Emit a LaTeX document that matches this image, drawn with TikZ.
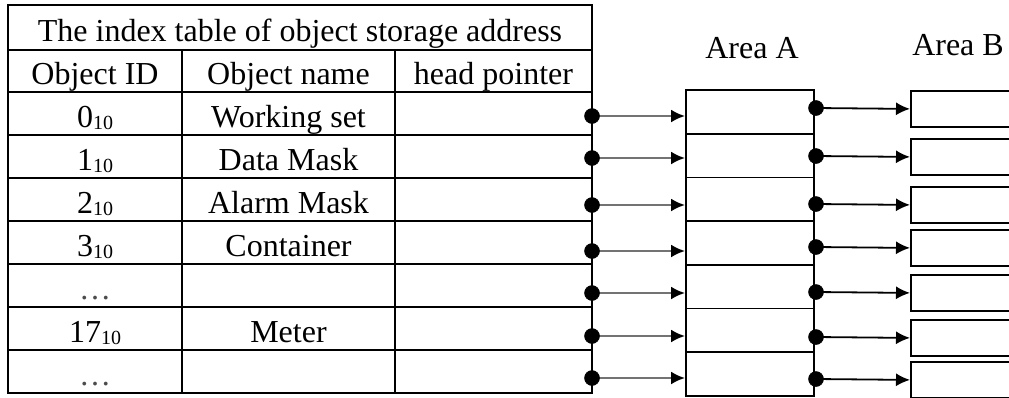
\documentclass[tikz,border=0pt]{standalone}
\usepackage{fontspec}
\setmainfont{Liberation Serif}
\usetikzlibrary{arrows.meta}
\newcommand{\idsub}[1]{#1\raisebox{-2pt}{\fontsize{20}{20}\selectfont 10}}
\newcommand{\dotsid}{\textcolor{black!70}{\ldots}}
\begin{document}
\begin{tikzpicture}[x=1pt,y=-1pt,
  cell/.style={draw, line width=1.8pt, inner sep=0pt, text height=27pt, text depth=0pt,
    font=\fontsize{32}{38}\selectfont},
  box/.style={draw, line width=1.8pt, inner sep=0pt},
  lab/.style={anchor=base, inner sep=0pt, font=\fontsize{32}{38}\selectfont},
  blob/.style={circle, fill=black, draw=black, line width=0.5pt, inner sep=0pt, minimum size=15pt},
  arrL/.style={line width=2.6pt, draw=black!55, -{Latex[length=14pt,width=13pt,black]}},
  arrR/.style={line width=1.8pt, draw=black, -{Latex[length=14pt,width=13pt]}}]
\useasboundingbox (0,0) rectangle (1009,397);
% table
\node[cell, minimum width=584pt, minimum height=45pt] (title) at (300,27.5)
  {The index table of object storage address};
\node[cell, minimum width=174pt, minimum height=42pt] (hid) at (95,71) {Object ID};
\node[cell, minimum width=213pt, minimum height=42pt] (hnm) at (288.5,71) {Object name};
\node[cell, minimum width=197pt, minimum height=42pt] (hhp) at (493.5,71) {head pointer};
\foreach \i/\id/\nm in {0/\idsub{0}/Working set,1/\idsub{1}/Data Mask,2/\idsub{2}/Alarm Mask,
  3/\idsub{3}/Container,4/\dotsid/{},5/\idsub{17}/Meter,6/\dotsid/{}}{
  \node[cell, minimum width=174pt, minimum height=43pt] (id\i) at (95,{113.5+43*\i}) {\id};
  \node[cell, minimum width=213pt, minimum height=43pt] (nm\i) at (288.5,{113.5+43*\i}) {\nm};
  \node[cell, minimum width=197pt, minimum height=43pt] (hp\i) at (493.5,{113.5+43*\i}) {};
}
% area A
\foreach \i in {0,...,6}{
  \node[box, minimum width=128pt, minimum height=43.714pt] (a\i) at (750,{90+43.714*(\i+0.5)}) {};
}
% area B
\foreach \i/\t in {0/90,1/138,2/186,3/229,4/274,5/319,6/361}{
  \node[box, anchor=north west, minimum width=130pt, minimum height=36pt] (b\i) at (910,\t) {};
}
\node[lab] (labA) at (752,58) {Area A};
\node[lab] (labB) at (958,55) {Area B};
% left arrows
\foreach \i/\y in {0/116,1/158,2/205,3/251,4/293,5/336,6/378}{
  \coordinate (s\i) at (592,\y);
  \draw[arrL] (s\i) -- (s\i -| a\i.west);
  \node[blob] (l\i) at (s\i) {};
}
% right arrows
\foreach \i/\t in {0/90,1/138,2/186,3/229,4/274,5/319,6/361}{
  \coordinate (t\i) at (816,{\t+18});
  \draw[arrR] (t\i) -- (b\i.west);
  \node[blob] (r\i) at (t\i) {};
}
\end{tikzpicture}
\end{document}
